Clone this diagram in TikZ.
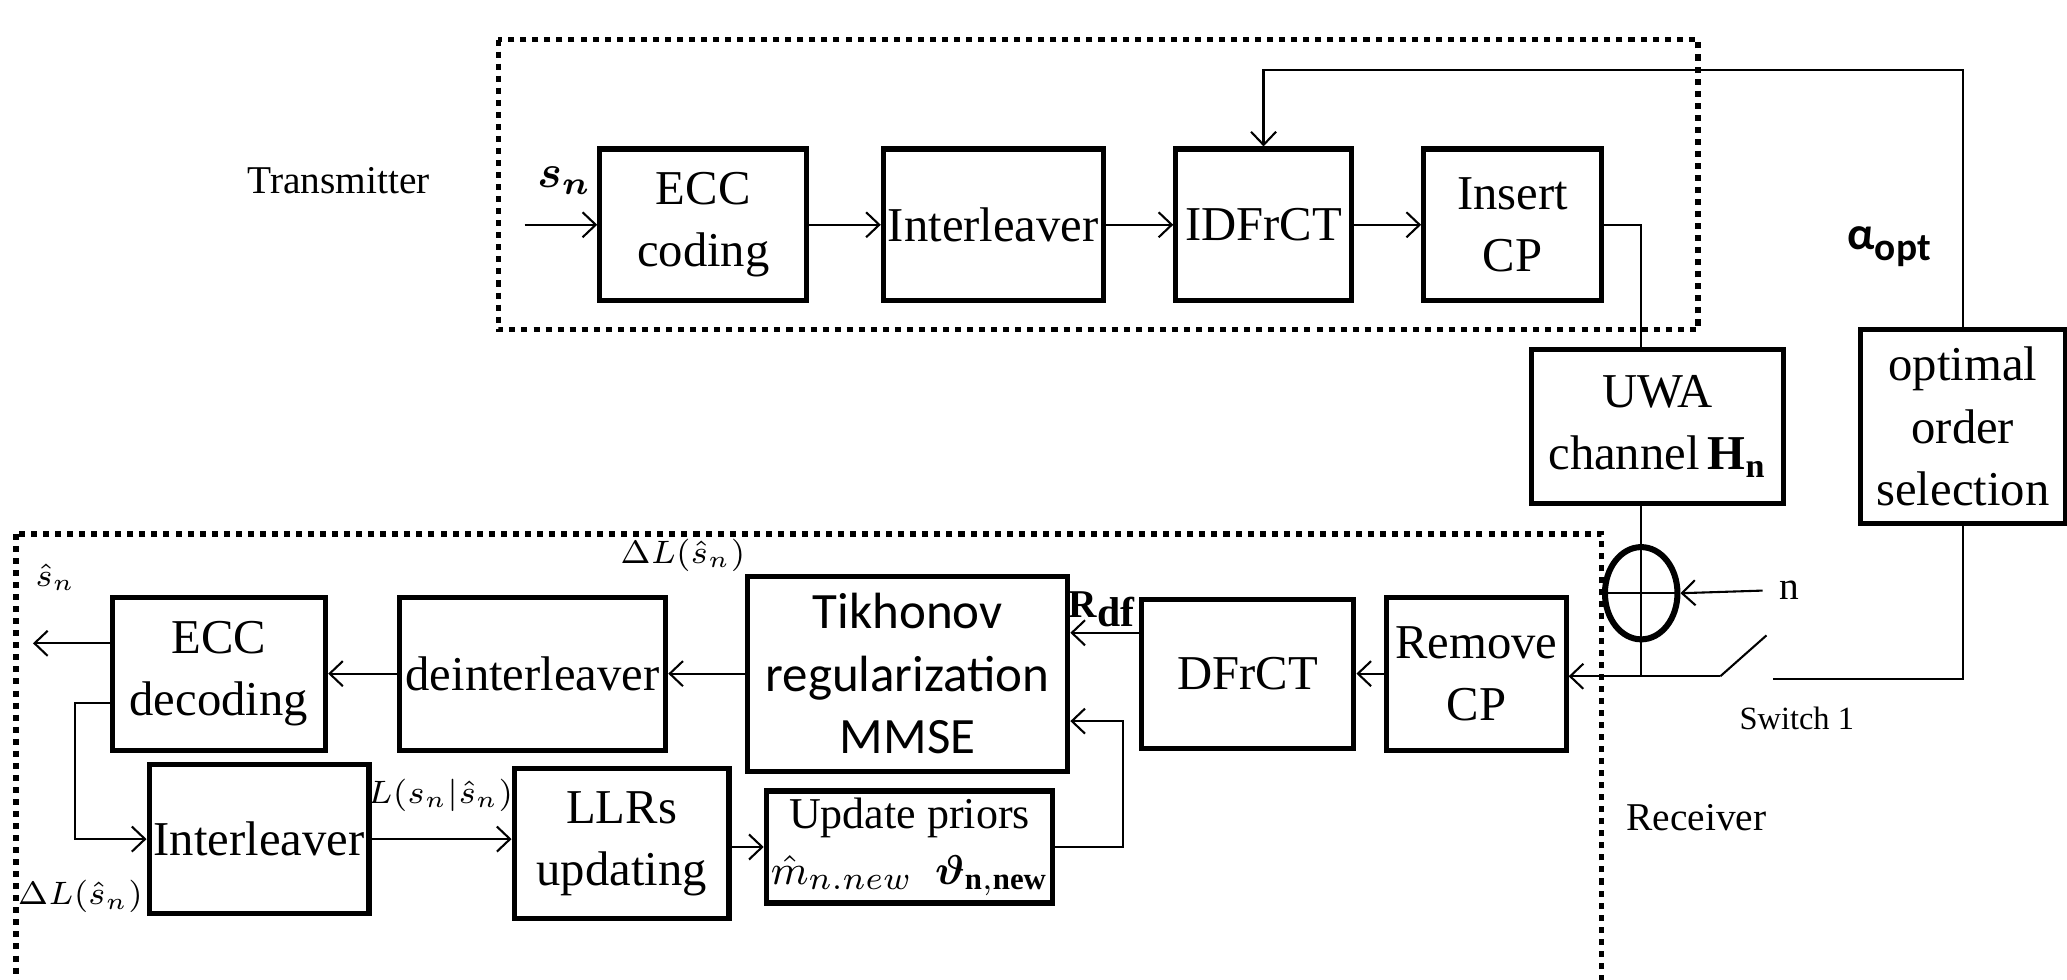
\documentclass[tikz,border=0pt]{standalone}
\usepackage{amsmath,amssymb,bm}
\usepackage{fontspec}
\setmainfont{Liberation Serif}
\newfontfamily\calib{Carlito}
\usetikzlibrary{arrows.meta, calc, shapes.geometric}

\begin{document}
\begin{tikzpicture}[
    x=0.1mm, y=-0.1mm,
    blk/.style={draw, line width=1.1pt, align=center, inner sep=1pt, font=\fontsize{10.5}{13.5}\selectfont},
    tblk/.style={blk, font=\calib\fontsize{11}{13.5}\selectfont},
    conn/.style={->, >={Straight Barb[length=1mm, width=1.9mm]}, line width=0.45pt},
    wire/.style={draw, line width=0.45pt},
    grp/.style={draw, line width=1.2pt, dash pattern=on 1.3pt off 1.3pt},
    lbl/.style={font=\fontsize{8.5}{10}\selectfont},
    mlbl/.style={inner sep=0.5pt, font=\fontsize{7.5}{9}\selectfont}
]
    \useasboundingbox (0,0) rectangle (1568,743);
    \clip (0,0) rectangle (1568,743);

    % transmitter
    \node[blk, minimum width=15.7mm, minimum height=11.5mm] (ecc) at (533.5,170.5) {ECC\\coding};
    \node[blk, minimum width=16.3mm, minimum height=11.5mm] (intl) at (753.5,170.5) {Interleaver};
    \node[blk, minimum width=13.3mm, minimum height=11.5mm] (idfrct) at (958.5,170.5) {IDFrCT};
    \node[blk, minimum width=13.5mm, minimum height=11.5mm] (icp) at (1147.5,170.5) {Insert\\CP};
    \coordinate (sin) at (398,170.5);
    \draw[conn] (sin) -- (ecc.west);
    \draw[conn] (ecc.east) -- (intl.west);
    \draw[conn] (intl.east) -- (idfrct.west);
    \draw[conn] (idfrct.east) -- (icp.west);
    \node[lbl, font=\fontsize{10}{12}\selectfont] (sn) at (428,137) {$\bm{s_n}$};
    \node[lbl] (tx) at (257,137) {Transmitter};
    \draw[grp] (378,30) rectangle (1288,250);

    % channel and order selection
    \node[blk, minimum width=19.1mm, minimum height=11.7mm] (uwa) at (1257.5,323.5) {UWA\\channel\,\textbf{H}$_{\textbf{n}}$};
    \node[blk, minimum width=15.6mm, minimum height=14.7mm] (opt) at (1489,323.5) {optimal\\order\\selection};
    \node[draw, ellipse, line width=1.3pt, minimum width=5.5mm, minimum height=7mm, inner sep=0pt] (add) at (1245,450) {};
    \draw[wire] (icp.east) -| (add |- uwa.north);
    \coordinate (swa) at (1305,513);
    \coordinate (swb) at (1340,482);
    \coordinate (swc) at (1345,515);
    \coordinate (fb) at (958.5,53);
    \draw[wire] (add |- uwa.south) -- (add.north) -- (add.south) -- (add |- swa);
    \draw[wire] (add.west) -- (add.east);
    \node[lbl] (nlbl) at (1357,448) {n};
    \draw[conn] (nlbl.west) -- (add.east);
    \draw[wire] (swa) -- (swb);
    \draw[wire] (swc) -| (opt.south);
    \draw[conn] (opt.north) |- (fb) -- (idfrct.north);
    \node[font=\calib\bfseries\fontsize{10}{12}\selectfont] (aopt) at (1433,187) {α\raisebox{-.5ex}{\fontsize{8.5}{10}\selectfont opt}};
    \node[lbl, font=\fontsize{7}{8}\selectfont] (swl) at (1363,545) {Switch 1};

    % receiver
    \node[blk, minimum width=13.6mm, minimum height=11.6mm] (rcp) at (1120,511) {Remove\\CP};
    \node[blk, minimum width=16.1mm, minimum height=11.3mm] (dfrct) at (946.5,511) {DFrCT};
    \node[tblk, minimum width=24.3mm, minimum height=14.8mm] (tik) at (688.5,511) {Tikhonov\\regularization\\MMSE};
    \node[blk, minimum width=20.2mm, minimum height=11.6mm] (deint) at (404,511) {deinterleaver};
    \node[blk, minimum width=16.2mm, minimum height=11.6mm] (eccd) at (166,511) {ECC\\decoding};
    \node[blk, minimum width=16.3mm, minimum height=11.3mm] (intl2) at (196.5,636.5) {Interleaver};
    \node[blk, minimum width=16.3mm, minimum height=11.4mm] (llr) at (471.5,640) {LLRs\\updating};
    \node[blk, minimum width=20mm, minimum height=8.5mm, font=\fontsize{9.5}{12}\selectfont] (upd) at (690,642.5) {Update priors\\$\hat{m}_{n.new}$\ \ $\bm{\vartheta}_{\mathbf{n,new}}$};
    \coordinate (fbk) at (852,547);
    \coordinate (shat) at (25,488);
    \coordinate (lp) at (57,533);
    \draw[conn] (swa) -- (rcp.east |- swa);
    \draw[conn] (rcp.west) -- (dfrct.east);
    \draw[conn] (dfrct.west |- 0,480) -- (tik.east |- 0,480);
    \draw[conn] (upd.east) -| (fbk) -- (tik.east |- fbk);
    \draw[conn] (tik.west) -- (deint.east);
    \draw[conn] (deint.west) -- (eccd.east);
    \draw[conn] (eccd.west |- shat) -- (shat);
    \draw[conn] (eccd.west |- lp) -- (lp) |- (intl2.west);
    \draw[conn] (intl2.east) -- (llr.west |- intl2.east);
    \draw[conn] (llr.east |- upd.west) -- (upd.west);
    \node[lbl] (rdf) at (836,462) {\textbf{R}\raisebox{-.5ex}{\textbf{\small df}}};
    \node[mlbl] (dl1) at (518,421) {$\Delta L(\hat{s}_n)$};
    \node[mlbl] (dl2) at (61,680) {$\Delta L(\hat{s}_n)$};
    \node[mlbl] (sh) at (42,438) {$\hat{s}_n$};
    \node[mlbl] (lcond) at (334,603) {$L(s_n|\hat{s}_n)$};
    \node[lbl] (rx) at (1287,620) {Receiver};
    \draw[grp] (12,405) rectangle (1215,800);
\end{tikzpicture}
\end{document}
